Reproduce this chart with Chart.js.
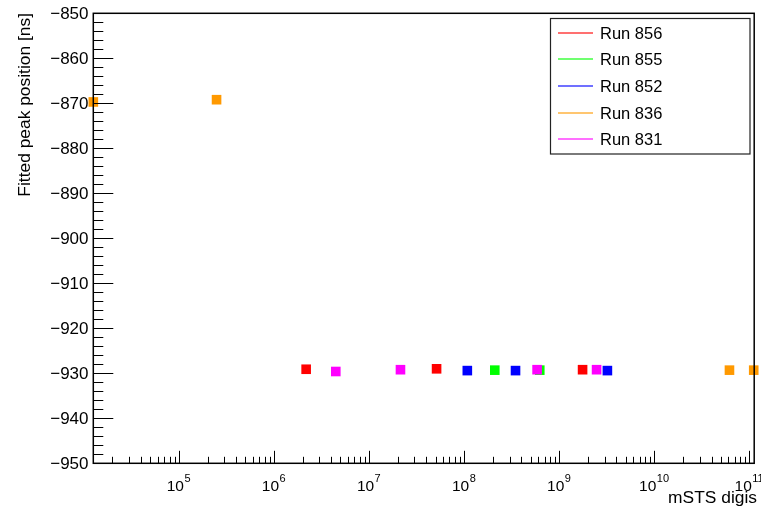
<!DOCTYPE html>
<html>
<head>
<meta charset="utf-8">
<script src="https://cdn.jsdelivr.net/npm/chart.js@4"></script>
<style>
  html, body { margin: 0; padding: 0; background: #fff; }
  canvas { display: block; }
</style>
</head>
<body>
<canvas id="peakChart" width="761" height="510"></canvas>
<script>
// runs, in legend order
const runLabels = ["Run 856", "Run 855", "Run 852", "Run 836", "Run 831"];
const runColors = ["#ff0000", "#00ff00", "#0000ff", "#ff9900", "#ff00ff"];

// mSTS digis (x) and fitted peak position in ns (y)
const digis856 = [2.18e6, 5.13e7, 1.76e9];
const peak856 = [-929.1, -929.0, -929.2];
const digis855 = [2.10e8, 6.24e8];
const peak855 = [-929.3, -929.3];
const digis852 = [1.08e8, 3.47e8, 3.21e9];
const peak852 = [-929.4, -929.4, -929.4];
const digis836 = [1.26e4, 2.49e5, 6.17e10, 1.11e11];
const peak836 = [-869.7, -869.2, -929.3, -929.3];
const digis831 = [4.47e6, 2.14e7, 5.85e8, 2.47e9];
const peak831 = [-929.6, -929.2, -929.2, -929.2];

// axes
const xMin = 12590;
const xMax = 1.123e11;
const xDecades = [5, 6, 7, 8, 9, 10, 11];
const yMin = -950;
const yMax = -850;
const yTicks = [-850, -860, -870, -880, -890, -900, -910, -920, -930, -940, -950];
const xTitle = "mSTS digis";
const yTitle = "Fitted peak position [ns]";

const runX = [digis856, digis855, digis852, digis836, digis831];
const runY = [peak856, peak855, peak852, peak836, peak831];

const FONT = "'Liberation Sans', Arial, Helvetica, sans-serif";

// ROOT-like frame, inside ticks, labels and legend box
const rootAxes = {
  id: "rootAxes",
  afterDraw(chart) {
    const { ctx, chartArea: a, scales } = chart;
    const xs = scales.x, ys = scales.y;
    ctx.save();
    ctx.strokeStyle = "#000";
    ctx.lineWidth = 1.5;
    ctx.strokeRect(a.left, a.top, a.right - a.left, a.bottom - a.top);

    // y ticks
    ctx.lineWidth = 1;
    ctx.beginPath();
    for (let v = yMin; v <= yMax; v += 2) {
      const py = Math.round(ys.getPixelForValue(v)) + 0.5;
      const len = (v % 10 === 0) ? 20 : 10;
      ctx.moveTo(a.left, py);
      ctx.lineTo(a.left + len, py);
    }
    // x ticks
    for (let d = 4; d <= 11; d++) {
      for (let m = 1; m <= 9; m++) {
        const v = m * Math.pow(10, d);
        if (v < xMin || v > xMax) continue;
        const px = Math.round(xs.getPixelForValue(v)) + 0.5;
        const len = m === 1 ? 12.5 : 6.5;
        ctx.moveTo(px, a.bottom);
        ctx.lineTo(px, a.bottom - len);
      }
    }
    ctx.stroke();

    // y labels
    ctx.fillStyle = "#000";
    ctx.font = "17px " + FONT;
    ctx.textAlign = "right";
    ctx.textBaseline = "middle";
    yTicks.forEach(v => {
      ctx.fillText(String(v).replace("-", "\u2212"), 88.5, ys.getPixelForValue(v) + 1);
    });

    // x labels 10^n
    ctx.textBaseline = "alphabetic";
    ctx.textAlign = "left";
    xDecades.forEach(n => {
      const px = xs.getPixelForValue(Math.pow(10, n));
      ctx.font = "15.5px " + FONT;
      const wb = ctx.measureText("10").width;
      ctx.font = "11px " + FONT;
      const we = ctx.measureText(String(n)).width;
      const x0 = px - (wb + we) / 2 - 0.5;
      ctx.font = "15.5px " + FONT;
      ctx.fillText("10", x0, 491);
      ctx.font = "11px " + FONT;
      ctx.fillText(String(n), x0 + wb + 0.5, 481.5);
    });

    // axis titles
    ctx.font = "17.4px " + FONT;
    ctx.textAlign = "right";
    ctx.fillText(xTitle, 757, 503);
    ctx.save();
    ctx.translate(29.5, 13);
    ctx.rotate(-Math.PI / 2);
    ctx.textAlign = "right";
    ctx.fillText(yTitle, 0, 0);
    ctx.restore();

    // legend
    ctx.fillStyle = "#fff";
    ctx.fillRect(550.5, 18.5, 199.5, 135.5);
    ctx.strokeStyle = "#222";
    ctx.lineWidth = 1.2;
    ctx.strokeRect(550.5, 18.5, 199.5, 135.5);
    ctx.font = "16.5px " + FONT;
    ctx.textAlign = "left";
    ctx.textBaseline = "middle";
    runLabels.forEach((lab, i) => {
      const cy = Math.round(32.5 + i * 26.7);
      ctx.save();
      ctx.globalAlpha = 0.75;
      ctx.strokeStyle = runColors[i];
      ctx.lineWidth = 1.6;
      ctx.beginPath();
      ctx.moveTo(558, cy);
      ctx.lineTo(593, cy);
      ctx.stroke();
      ctx.restore();
      ctx.fillStyle = "#000";
      ctx.fillText(lab, 600, cy + 1);
    });
    ctx.restore();
  }
};

const datasets = runLabels.map((label, i) => ({
  label,
  data: runX[i].map((x, j) => ({ x, y: runY[i][j] })),
  backgroundColor: runColors[i],
  borderColor: runColors[i],
  borderWidth: 0,
  pointStyle: "rect",
  pointRadius: 6.8,
  pointHoverRadius: 6.8,
  showLine: false,
  clip: false,
  order: runLabels.length - 1 - i  // later runs drawn on top, like ROOT
}));

new Chart(document.getElementById("peakChart"), {
  type: "scatter",
  data: { datasets },
  options: {
    responsive: false,
    animation: false,
    layout: { padding: { left: 93.3, top: 13.3, right: 2, bottom: 46.7 } },
    scales: {
      x: { type: "logarithmic", min: xMin, max: xMax, display: false },
      y: { type: "linear", min: yMin, max: yMax, display: false }
    },
    plugins: {
      legend: { display: false },
      tooltip: { enabled: false }
    }
  },
  plugins: [rootAxes]
});
</script>
</body>
</html>
